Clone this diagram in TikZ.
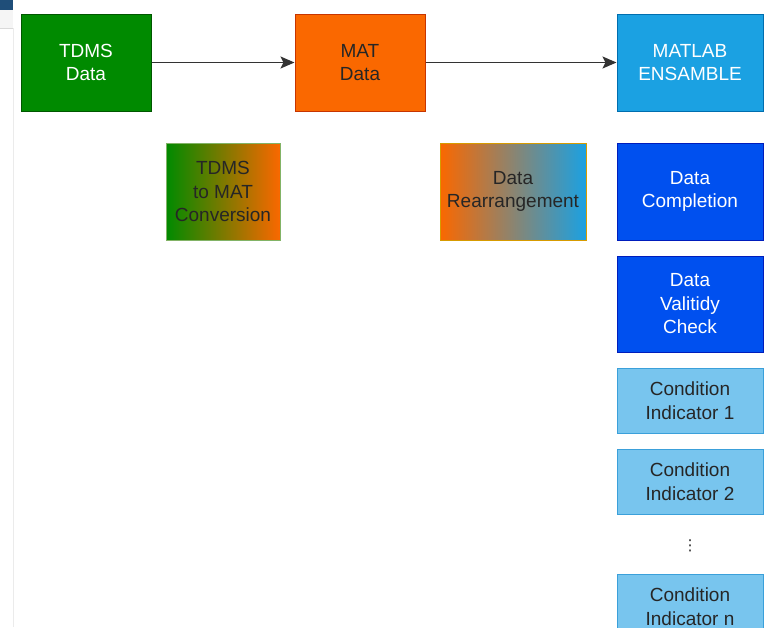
\documentclass[tikz,border=0pt]{standalone}
\usepackage{fontspec}
\setmainfont{Liberation Sans}
\newfontfamily\dejavu{DejaVu Sans}
\usetikzlibrary{arrows.meta}
\definecolor{tgreen}{HTML}{008A00}
\definecolor{tgreenb}{HTML}{005700}
\definecolor{torange}{HTML}{FA6800}
\definecolor{torangeb}{HTML}{C73500}
\definecolor{tblue}{HTML}{1BA1E2}
\definecolor{tblueb}{HTML}{006EAF}
\definecolor{dblue}{HTML}{0050EF}
\definecolor{dblueb}{HTML}{001DBC}
\definecolor{lblue}{HTML}{78C5EE}
\definecolor{lblueb}{HTML}{3BA0DA}
\definecolor{gradb1}{HTML}{82B366}
\definecolor{gradb2}{HTML}{D79B00}
\definecolor{uibar}{HTML}{1F4E79}
\begin{document}
\begin{tikzpicture}[x=1pt,y=-1pt,
  box/.style={rectangle,draw,line width=1pt,inner sep=0pt,align=center,
    font=\fontsize{19}{23.5}\selectfont},
  conn/.style={-{Stealth[length=14pt,width=12pt,inset=3pt]},line width=1.5pt,black!80}]
\useasboundingbox[fill=white] (0,0) rectangle (771,627);
% UI artefact top-left
\fill[uibar] (0,0) rectangle (13,10);
\fill[black!4] (0,10) rectangle (13,28);
\draw[black!15] (0,28) -- (13,28);
\draw[black!8] (13.5,28) -- (13.5,627);
% top row
\node[box,fill=tgreen,draw=tgreenb,text=white,minimum width=130pt,minimum height=97pt] (tdms) at (86,62.5) {TDMS\\Data};
\node[box,fill=torange,draw=torangeb,text=black!85,minimum width=130pt,minimum height=97pt] (mat) at (360,62.5) {MAT\\Data};
\node[box,fill=tblue,draw=tblueb,text=white,minimum width=146pt,minimum height=97pt] (ens) at (690,62.5) {MATLAB\\ENSAMBLE};
\draw[conn] (tdms) -- (mat);
\draw[conn] (mat) -- (ens);
% gradient boxes
\node[box,left color=tgreen,right color=torange,draw=gradb1,text=black!85,minimum width=114pt,minimum height=97pt] (conv) at (223,191.5) {TDMS\\to MAT\\Conversion};
\node[box,left color=torange,right color=tblue,draw=gradb2,text=black!85,minimum width=146pt,minimum height=97pt] (rearr) at (513,191.5) {Data\\Rearrangement};
% right column
\node[box,fill=dblue,draw=dblueb,text=white,minimum width=146pt,minimum height=97pt] (compl) at (690,191.5) {Data\\Completion};
\node[box,fill=dblue,draw=dblueb,text=white,minimum width=146pt,minimum height=96pt] (valid) at (690,304) {Data\\Valitidy\\Check};
\node[box,fill=lblue,draw=lblueb,text=black!85,minimum width=146pt,minimum height=65pt] (ci1) at (690,400.5) {Condition\\Indicator 1};
\node[box,fill=lblue,draw=lblueb,text=black!85,minimum width=146pt,minimum height=65pt] (ci2) at (690,481.5) {Condition\\Indicator 2};
\node[font=\dejavu\fontsize{15}{15}\selectfont,text=black!85,inner sep=0pt] (dots) at (690,546) {⋮};
\node[box,fill=lblue,draw=lblueb,text=black!85,minimum width=146pt,minimum height=65pt] (cin) at (690,606.5) {Condition\\Indicator n};
\end{tikzpicture}
\end{document}
